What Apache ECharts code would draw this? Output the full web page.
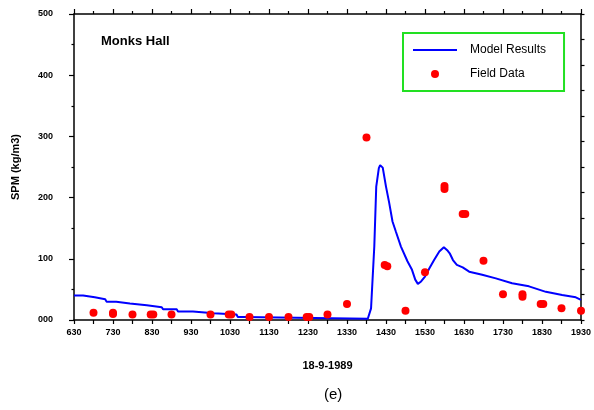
<!DOCTYPE html>
<html>
<head>
<meta charset="utf-8">
<script src="https://cdn.jsdelivr.net/npm/echarts@6/dist/echarts.min.js"></script>
<style>
html,body{margin:0;padding:0;background:#fff;}
#chart{width:594px;height:410px;}
</style>
</head>
<body>
<div id="chart"></div>
<script>
// Time axis: minutes after 06:30 on 18-9-1989
var xTickLabels = ['630','730','830','930','1030','1130','1230','1330','1430','1530','1630','1730','1830','1930'];
var yTickLabels = ['000','100','200','300','400','500'];

// Model Results (blue line)
var modelTime = [0,14,16,32,34,48,50,65,67,86,88,112,114,135,137,158,160,183,185,215,217,250,252,260,262,452,457,462,465,469,471,475,480,485,490,495,503,513,520,525,529,534,540,547,554,562,569,575,578,583,589,598,608,628,649,674,700,726,751,772,780];
var modelSPM  = [40,40,37,37,34,34,30,30,27,27,24,24,21,21,17.5,17.5,14,14,11,11,9,9,5,5,2,2,19,120,218,248,253,249,218,191,161,145,120,96,82,66,59,63,71,85,98,112,119,113,109,98,90,86,79,74,68,60,55,46,41,37,33];

// Field Data (red dots)
var fieldTime = [30,60,60,90,118,122,150,210,238,242,270,300,330,358,362,390,420,450,478,482,510,540,570,570,598,602,630,660,690,690,718,722,750,780];
var fieldSPM  = [12,12,10,9,9,9,9,9,9,9,5,5,5,5,5,9,26,298,90,88,15,78,219,214,173,173,97,42,42,38,26,26,19,15];

var FONT = "'Liberation Sans',Arial,sans-serif";

function zip(a, b){ return a.map(function(v,i){ return [v, b[i]]; }); }

var chart = echarts.init(document.getElementById('chart'), null, {renderer:'canvas'});
var axisLine = {show:true, onZero:false, lineStyle:{color:'#000', width:1.5}};
var tickStyle = {color:'#000', width:1.2};
var option = {
  animation:false,
  backgroundColor:'#fff',
  title:{
    text:'Monks Hall', left:96, top:30,
    textStyle:{fontFamily:FONT, fontSize:13, fontWeight:'bold', color:'#000'}
  },
  legend:{
    orient:'vertical', left:403, top:33,
    itemWidth:44, itemHeight:8, itemGap:12,
    padding:[11,18,11,10],
    borderColor:'#22e022', borderWidth:2,
    textStyle:{fontFamily:FONT, fontSize:12, color:'#000', padding:[0,0,0,8]},
    data:[{name:'Model Results', icon:'path://M0,0L44,0L44,2L0,2Z'},{name:'Field Data', icon:'circle'}]
  },
  grid:{left:74, right:12, top:14, bottom:90, containLabel:false},
  xAxis:[{
    type:'value', position:'bottom', min:0, max:780, interval:30,
    name:'18-9-1989', nameLocation:'middle', nameGap:40,
    nameTextStyle:{fontFamily:FONT, fontSize:11, fontWeight:'bold', color:'#000'},
    axisLine:axisLine,
    axisTick:{show:true, inside:false, length:4, lineStyle:tickStyle},
    axisLabel:{
      margin:8, fontFamily:FONT, fontSize:9, fontWeight:'bold', color:'#000',
      formatter:function(v){ return (v % 60 === 0) ? xTickLabels[v/60] : ''; }
    },
    splitLine:{show:false}
  },{
    type:'value', position:'top', min:0, max:780, interval:60,
    axisLine:axisLine,
    axisTick:{show:true, inside:false, length:5, lineStyle:tickStyle},
    minorTick:{show:true, splitNumber:2, length:3, lineStyle:tickStyle},
    axisLabel:{show:false}, splitLine:{show:false}
  }],
  yAxis:[{
    type:'value', position:'left', min:0, max:500, interval:100,
    name:'SPM (kg/m3)', nameLocation:'middle', nameGap:53,
    nameTextStyle:{fontFamily:FONT, fontSize:11, fontWeight:'bold', color:'#000'},
    axisLine:axisLine,
    axisTick:{show:true, inside:false, length:5, lineStyle:tickStyle},
    minorTick:{show:true, splitNumber:2, length:2.5, lineStyle:tickStyle},
    axisLabel:{
      margin:21, fontFamily:FONT, fontSize:9, fontWeight:'bold', color:'#000',
      formatter:function(v){ return yTickLabels[Math.round(v/100)]; }
    },
    splitLine:{show:false}
  },{
    type:'value', position:'right', min:0, max:500, interval:500/12,
    axisLine:axisLine,
    axisTick:{show:true, inside:false, length:3.5, lineStyle:tickStyle},
    axisLabel:{show:false}, splitLine:{show:false}
  }],
  series:[{
    name:'Model Results', type:'line', xAxisIndex:0, yAxisIndex:0,
    data:zip(modelTime, modelSPM), showSymbol:false, symbol:'none',
    lineStyle:{color:'#0000ff', width:2}, itemStyle:{color:'#0000ff'}, z:2
  },{
    name:'Field Data', type:'scatter', xAxisIndex:0, yAxisIndex:0,
    data:zip(fieldTime, fieldSPM), symbol:'circle', symbolSize:8,
    itemStyle:{color:'#ff0000', opacity:1}, z:3
  }],
  graphic:[{
    type:'text', left:324, top:387,
    style:{text:'(e)', fontFamily:FONT, fontSize:15, fill:'#000'}
  }]
};
chart.setOption(option);
</script>
</body>
</html>
